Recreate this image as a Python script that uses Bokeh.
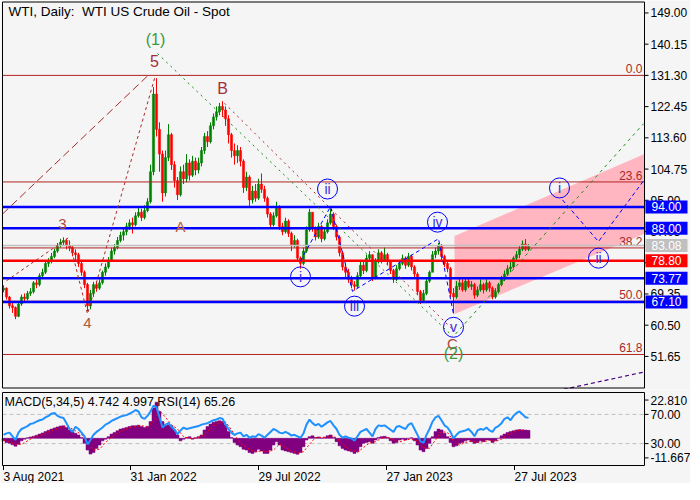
from bokeh.plotting import figure
from bokeh.models import Range1d, ColumnDataSource
from bokeh.layouts import column
from bokeh.embed import file_html
from bokeh.resources import INLINE
from bokeh.core.properties import value

# ---------------- data (every 3rd trading day, bar index 0 = 3 Aug 2021) ----------------
STEP = 3
first_open = 70.5
closes = [
    71.0, 68.5, 66.0, 65.5, 63.0, 66.5, 68.5, 68.0, 69.5, 70.0,
    72.5, 72.0, 74.5, 75.5, 78.0, 78.5, 80.0, 81.5, 83.0, 84.0,
    84.5, 83.0, 82.5, 81.0, 80.5, 78.0, 75.5, 72.0, 66.0, 69.5,
    72.0, 71.0, 72.5, 75.5, 77.0, 79.0, 81.5, 82.5, 84.5, 86.0,
    87.0, 88.5, 89.5, 89.0, 91.5, 92.5, 91.0, 93.0, 95.5, 104.0,
    126.0, 116.0, 109.0, 98.0, 108.0, 114.5, 106.0, 101.5, 97.5, 104.0,
    102.0, 106.5, 103.0, 107.0, 104.5, 106.5, 110.0, 114.0, 112.5, 117.0,
    119.5, 121.0, 122.5, 121.5, 119.0, 114.5, 110.0, 108.5, 110.0, 107.0,
    99.5, 102.5, 96.0, 98.5, 96.5, 100.5, 99.0, 96.5, 92.0, 89.0,
    91.5, 94.0, 88.5, 87.0, 90.0, 86.5, 83.0, 84.5, 79.5, 78.0,
    81.5, 87.5, 92.5, 88.0, 85.5, 88.5, 85.0, 87.0, 89.5, 92.0,
    88.5, 85.5, 81.0, 77.0, 75.5, 73.5, 72.0, 71.5, 74.5, 77.5,
    76.0, 79.5, 80.5, 74.0, 78.5, 81.0, 79.0, 80.5, 78.5, 76.0,
    73.5, 76.5, 78.0, 79.5, 77.5, 80.0, 77.0, 75.0, 70.0, 67.5,
    69.5, 73.0, 75.5, 80.5, 81.5, 83.0, 80.0, 78.0, 76.5, 69.5,
    68.5, 71.5, 72.5, 70.5, 73.0, 71.5, 72.0, 69.0, 70.5, 72.0,
    70.5, 72.5, 71.0, 68.5, 70.0, 72.0, 73.5, 75.0, 76.5, 77.0,
    79.5, 80.5, 82.0, 83.5, 82.0, 83.08]
highs = [
    71.8, 71.2, 68.8, 67.0, 65.8, 67.2, 69.2, 69.5, 70.2, 71.0,
    73.0, 73.5, 75.2, 76.5, 78.8, 79.5, 81.0, 82.2, 83.8, 85.0,
    85.4, 85.0, 84.0, 83.0, 82.0, 81.0, 78.5, 76.0, 72.5, 70.5,
    72.8, 73.0, 73.5, 76.0, 78.0, 79.8, 82.5, 83.5, 85.5, 87.0,
    88.0, 89.5, 90.5, 91.0, 92.5, 94.0, 93.5, 94.5, 96.5, 106.0,
    128.0, 130.5, 118.0, 110.0, 110.0, 117.5, 115.0, 107.0, 102.5, 105.5,
    106.0, 109.0, 107.5, 108.5, 108.0, 108.0, 111.0, 115.0, 115.5, 118.0,
    120.5, 122.5, 123.5, 124.0, 122.5, 120.0, 115.0, 112.0, 111.5, 111.0,
    107.5, 104.0, 103.0, 100.0, 100.5, 102.0, 103.5, 100.0, 97.0, 92.5,
    92.5, 95.5, 94.5, 89.5, 91.0, 90.5, 87.0, 86.0, 85.0, 80.0,
    82.5, 88.5, 93.5, 92.5, 88.5, 89.5, 89.0, 88.0, 90.5, 93.5,
    92.5, 89.0, 86.0, 81.5, 78.0, 76.5, 74.5, 73.0, 75.5, 78.5,
    78.5, 80.5, 81.5, 80.5, 79.5, 82.0, 81.5, 82.5, 81.0, 79.0,
    76.5, 77.5, 79.0, 80.5, 80.0, 81.0, 80.5, 77.5, 75.5, 70.5,
    70.5, 74.0, 76.0, 81.5, 82.5, 83.8, 83.5, 80.5, 78.5, 77.0,
    71.0, 73.0, 74.0, 73.5, 74.0, 74.0, 73.0, 72.5, 71.5, 73.5,
    72.5, 73.5, 73.0, 71.5, 71.0, 72.5, 74.5, 76.0, 77.5, 78.5,
    80.0, 81.5, 83.0, 84.5, 84.9, 83.5]
lows = [
    69.8, 67.8, 65.2, 64.0, 62.2, 62.8, 66.0, 67.0, 67.5, 68.8,
    69.5, 71.0, 71.5, 74.0, 75.0, 77.0, 78.0, 79.5, 81.0, 82.5,
    83.0, 82.0, 81.5, 80.0, 78.8, 77.0, 74.5, 71.0, 64.5, 65.0,
    68.5, 70.0, 70.5, 72.0, 74.5, 76.5, 78.5, 80.5, 82.0, 84.0,
    84.5, 86.0, 87.5, 86.5, 88.5, 91.0, 90.0, 90.5, 92.5, 95.0,
    103.0, 114.0, 104.0, 95.5, 97.0, 107.0, 104.5, 99.5, 96.0, 97.0,
    100.5, 101.0, 101.5, 102.5, 103.0, 103.5, 105.5, 109.0, 111.0, 112.0,
    116.0, 118.5, 120.0, 119.5, 117.0, 112.0, 108.0, 106.0, 106.5, 105.5,
    98.0, 98.5, 94.0, 95.0, 95.5, 96.0, 98.0, 95.5, 91.0, 88.0,
    88.5, 91.0, 87.5, 86.0, 86.5, 85.5, 81.5, 82.5, 78.5, 76.5,
    77.5, 81.0, 87.0, 87.0, 84.5, 85.0, 84.0, 84.5, 86.5, 89.0,
    87.5, 84.5, 80.0, 76.0, 74.0, 72.5, 71.0, 70.3, 71.0, 74.0,
    75.0, 75.5, 78.5, 73.0, 73.5, 78.0, 78.0, 78.5, 77.5, 75.0,
    72.5, 73.0, 76.0, 77.5, 76.5, 77.0, 76.0, 74.0, 69.0, 66.5,
    67.0, 69.0, 72.5, 79.5, 79.5, 80.5, 79.0, 77.0, 75.5, 68.5,
    63.8, 68.0, 70.5, 70.0, 70.0, 71.0, 70.5, 68.0, 68.5, 70.0,
    69.5, 70.0, 70.0, 67.8, 68.0, 69.5, 71.5, 73.0, 74.5, 75.5,
    76.5, 78.5, 79.5, 81.5, 81.5, 81.5]

rsi = [
    42, 44, 45, 40, 35, 45, 50, 52, 54, 57,
    58, 60, 62, 63, 66, 68, 71, 72, 68, 66,
    65, 58, 50, 46, 53, 50, 45, 40, 29, 35,
    42, 46, 49, 52, 56, 58, 61, 63, 65, 67,
    68, 69, 71, 73, 76, 74, 66, 64, 68, 74,
    82, 80, 66, 52, 56, 58, 53, 49, 43, 48,
    52, 50, 51, 52, 53, 54, 56, 57, 58, 60,
    62, 63, 65, 64, 56, 50, 45, 42, 44, 45,
    40, 42, 38, 40, 39, 43, 41, 38, 42, 46,
    50, 48, 45, 44, 46, 44, 41, 42, 40, 38,
    44, 56, 63, 58, 55, 57, 53, 56, 59, 61,
    55, 50, 42, 38, 40, 38, 37, 34, 40, 46,
    48, 50, 45, 40, 50, 55, 54, 55, 52, 49,
    46, 53, 54, 52, 50, 56, 58, 50, 42, 33,
    31, 42, 50, 60, 66, 68, 62, 55, 52, 46,
    37, 42, 46, 47, 48, 50, 46, 40, 48, 50,
    49, 52, 48, 46, 52, 54, 58, 64, 66, 62,
    68, 72, 74, 70, 66, 65.26]
macd = [
    -1.5, -2.5, -3.0, -3.8, -4.7, -3.5, -1.5, -0.5, 0.3, 0.8,
    1.2, 1.8, 2.5, 3.2, 4.0, 4.8, 5.5, 6.2, 6.8, 7.3,
    7.5, 6.5, 5.0, 4.0, 3.0, 2.0, 0.5, -3.0, -7.0, -9.4,
    -8.5, -6.0, -4.0, -1.5, -0.5, 1.0, 2.5, 3.5, 4.5, 5.5,
    6.0, 6.5, 7.0, 7.5, 7.5, 7.8, 7.0, 6.5, 7.0, 10.0,
    18.0, 21.5, 16.0, 10.0, 7.5, 8.0, 7.5, 5.0, 2.0, -1.5,
    -0.5, 0.5, 1.0, -0.5, 0.3, 1.0, 2.0, 5.0, 7.0, 8.5,
    9.5, 10.0, 10.5, 10.0, 8.0, 4.0, 0.5, -2.5, -4.0, -5.0,
    -6.5, -7.0, -8.5, -9.0, -8.0, -6.5, -7.5, -9.0, -9.0, -7.0,
    -4.0, -2.0, -4.0, -7.0, -7.5, -8.0, -8.5, -9.0, -9.5, -8.5,
    -5.0, -1.0, 1.0, 1.5, 0.5, 0.8, 0.2, 0.5, 1.5, 2.0,
    0.5, -2.0, -4.5, -6.0, -7.0, -7.5, -8.0, -9.0, -8.0, -5.0,
    -3.0, -2.5, -2.0, -3.0, -1.0, 0.5, 1.0, 1.2, 0.5, -1.5,
    -3.0, -2.5, -1.0, -0.5, -1.0, 0.0, 0.3, -1.5, -4.0, -7.0,
    -8.0, -6.0, -3.0, 1.0, 4.0, 5.5, 5.0, 3.0, 1.0, -2.5,
    -5.0, -4.5, -3.0, -2.5, -1.5, -1.0, -2.0, -3.0, -2.5, -1.5,
    -2.0, -1.0, -1.0, -2.5, -1.5, 0.0, 1.5, 2.5, 3.5, 4.0,
    4.5, 5.0, 5.2, 5.0, 4.9, 4.742]
SIG_STEP = 6
signal = [
    -1.0, -2.2, -3.5, -3.6, -1.5, 0.5, 1.6, 3.0, 4.5, 5.8,
    6.9, 6.5, 4.5, 2.2, -2.0, -7.0, -6.5, -2.5, 0.6, 3.0,
    5.0, 6.2, 7.0, 7.5, 7.0, 10.0, 16.5, 12.5, 8.0, 5.5,
    1.0, 0.0, 0.2, 1.0, 4.0, 7.5, 9.5, 9.8, 5.0, -0.5,
    -4.5, -6.5, -8.2, -7.5, -8.0, -7.0, -3.5, -5.5, -7.5, -8.8,
    -8.0, -3.5, 0.5, 0.6, 0.6, 1.5, -1.5, -5.0, -7.2, -8.3,
    -5.5, -2.8, -2.0, 0.0, 0.8, -1.0, -2.2, -1.0, -0.4, -1.5,
    -5.5, -6.0, -1.0, 4.0, 3.5, -1.5, -4.0, -2.5, -1.5, -2.5,
    -2.0, -1.3, -1.8, -0.5, 2.0, 3.8, 4.8, 4.997]

price_ticks = [149.00, 140.15, 131.30, 122.45, 113.60, 104.75, 95.90, 87.05, 78.20, 69.35, 60.50, 51.65]
date_tick_idx = [0, 127, 255, 383, 511]
date_labels = ["3 Aug 2021", "31 Jan 2022", "29 Jul 2022", "27 Jan 2023", "27 Jul 2023"]
macd_ticks = [22.810, -11.667]
rsi_ticks = [70.0, 30.0]

fib_levels = [131.3, 101.1, 82.4, 67.3, 52.2]
fib_labels = ["0.0", "23.6", "38.2", "50.0", "61.8"]

level_values = [94.00, 88.00, 83.08, 78.80, 73.77, 67.10]
level_colors = ["#0000ff", "#0000ff", "#c0c0c0", "#ff0000", "#0000ff", "#0000ff"]
level_widths = [2.5, 2.5, 1.5, 2.5, 2.5, 2.5]

wave_text = ["(1)", "5", "B", "3", "A", "4", "C", "(2)"]
wave_x = [152, 151, 219, 59, 177, 84, 449, 450]
wave_y = [141.6, 135.3, 127.5, 89.1, 88.6, 61.0, 55.4, 52.4]
wave_color = ["#3a9a3a", "#a0303c", "#a0303c", "#b04a3a", "#c0603a", "#b05a3a", "#b04a3a", "#3a9a3a"]
wave_size = ["16px", "16px", "16px", "15px", "15px", "15px", "15px", "16px"]

circ_text = ["i", "ii", "iii", "iv", "v", "i", "ii"]
circ_x = [297, 324, 351, 434, 450, 556, 595]
circ_y = [74.2, 99.1, 65.9, 89.7, 59.9, 99.4, 79.5]

wave5_x = [3, 65, 84, 152]
wave5_y = [73.1, 85.3, 63.7, 131.4]
longdash_x = [-1, 145]
longdash_y = [92.0, 131.4]
green1_x = [154, 449]
green1_y = [137.5, 57.4]
red2_x = [221, 449]
red2_y = [123.4, 59.3]
green_proj_x = [452, 640]
green_proj_y = [58.0, 117.6]
blue_sub_x = [297, 327, 349, 435, 450]
blue_sub_y = [78.7, 94.1, 70.1, 85.0, 63.7]
blue_future_x = [559, 595, 641]
blue_future_y = [96.0, 84.2, 101.8]
purple_x = [560, 640]
purple_y = [42.3, 47.2]
channel_x = [451, 641, 641, 451]
channel_y = [85.8, 109.0, 86.4, 63.7]

# ---------------- layout constants ----------------
BG = "#f5f5f5"
FONT = "Liberation Sans"
X0, X1 = -1, 641            # chart frame (bar index)
XR = Range1d(-3, 687)       # includes the right-hand scale area
P_LO, P_HI = 42.7, 152.1    # price frame
H1 = 389                    # main panel height (px)
H2 = 94                     # lower panel height (px)
LABEL_X = 647
BOX_X, BOX_W = 663, 42


def frame_lines(fig, lo, hi):
    fig.segment(x0=[X0, X0, X0, X1], y0=[lo, hi, lo, lo], x1=[X1, X1, X0, X1], y1=[lo, hi, hi, hi],
                line_color="black", line_width=1)


# ---------------- main price panel ----------------
pad = (P_HI - P_LO) / (H1 - 3.0) * 1.5
p = figure(width=690, height=H1, x_range=XR, y_range=Range1d(P_LO - pad, P_HI + pad),
           output_backend="svg", toolbar_location=None,
           x_axis_location=None, y_axis_location=None,
           min_border_left=0, min_border_right=0, min_border_top=0, min_border_bottom=0,
           background_fill_color=BG, border_fill_color=BG, outline_line_color=None)
p.grid.visible = False

p.patch(channel_x, channel_y, fill_color="#ffb6c1", line_color=None)

n = min(len(closes), len(highs), len(lows))
idx = [STEP * i for i in range(n)]
opens = [first_open] + closes[:n - 1]
cols = ["#008000" if closes[i] >= opens[i] else "#ff0000" for i in range(n)]
src = ColumnDataSource(dict(
    x=idx, h=highs[:n], l=lows[:n],
    top=[max(opens[i], closes[i]) for i in range(n)],
    bot=[min(opens[i], closes[i]) for i in range(n)],
    col=cols))
p.segment(x0="x", y0="l", x1="x", y1="h", line_color="col", line_width=1, source=src)
p.vbar(x="x", width=2.2, top="top", bottom="bot", fill_color="col", line_color="col",
       line_width=0.5, source=src)

# fib levels
p.segment(x0=[X0] * len(fib_levels), x1=[X1] * len(fib_levels), y0=fib_levels, y1=fib_levels,
          line_color="#b22222", line_width=1)
p.text(x=[X1 - 2] * len(fib_levels), y=[lv + 0.6 for lv in fib_levels], text=fib_labels,
       text_align="right", text_baseline="bottom", text_color="#a52a2a",
       text_font=value(FONT), text_font_size="12px")

# support / resistance levels
for lv, c, w in zip(level_values, level_colors, level_widths):
    p.segment(x0=[X0], x1=[X1], y0=[lv], y1=[lv], line_color=c, line_width=w)

# wave lines
p.line(wave5_x, wave5_y, line_color="#a52a2a", line_dash="3 3", line_width=1)
p.line(longdash_x, longdash_y, line_color="#a52a2a", line_dash="8 4", line_width=1)
p.line(green1_x, green1_y, line_color="#1a8a1a", line_dash="2 4", line_width=1)
p.line(red2_x, red2_y, line_color="#a52a2a", line_dash="2 4", line_width=1)
p.line(green_proj_x, green_proj_y, line_color="#1a8a1a", line_dash="3 4", line_width=1)
p.line(blue_sub_x, blue_sub_y, line_color="#0000ff", line_dash="4 3", line_width=1)
p.line(blue_future_x, blue_future_y, line_color="#0000ff", line_dash="4 3", line_width=1)
p.line(purple_x, purple_y, line_color="#4b0082", line_dash="4 3", line_width=1.2)

# wave labels
p.text(x=wave_x, y=wave_y, text=wave_text, text_color=wave_color, text_font_size=wave_size,
       text_align="center", text_baseline="middle", text_font=value(FONT))
p.scatter(x=circ_x, y=circ_y, marker="circle", size=20, fill_color=None,
          line_color="#0000ff", line_width=1)
p.text(x=circ_x, y=circ_y, text=circ_text, text_color="#3a2be0", text_font_size="14px",
       text_align="center", text_baseline="middle", text_font=value(FONT))

# title
p.text(x=[5], y=[151.5], text=["WTI, Daily:\u00a0 WTI US Crude Oil - Spot"], text_align="left",
       text_baseline="top", text_color="black", text_font=value(FONT), text_font_size="13.5px")

frame_lines(p, P_LO, P_HI)

# right price scale
p.segment(x0=[X1] * len(price_ticks), x1=[X1 + 4] * len(price_ticks), y0=price_ticks, y1=price_ticks,
          line_color="black", line_width=1)
p.text(x=[LABEL_X] * len(price_ticks), y=price_ticks, text=["%.2f" % t for t in price_ticks],
       text_align="left", text_baseline="middle", text_color="black",
       text_font=value(FONT), text_font_size="12px")

# price boxes
p.rect(x=[BOX_X] * len(level_values), y=level_values, width=BOX_W, height=13, height_units="screen",
       fill_color=level_colors, line_color=None)
p.text(x=[BOX_X] * len(level_values), y=level_values, text=["%.2f" % v for v in level_values],
       text_align="center", text_baseline="middle", text_color="white",
       text_font=value(FONT), text_font_size="12px")

# ---------------- lower panel (MACD + RSI) ----------------
MACD_LO, MACD_HI = -16.2, 27.3     # macd value at RSI 0 / RSI 100
PX_PER_UNIT = 0.73                 # pixels per RSI unit
TOP_GAP, BOTTOM_GAP = 3.0, H2 - 3.0 - 73.0
R_LO = -BOTTOM_GAP / PX_PER_UNIT
R_HI = 100.0 + TOP_GAP / PX_PER_UNIT
k = (MACD_HI - MACD_LO) / 100.0

p2 = figure(width=690, height=H2, x_range=XR, y_range=Range1d(R_LO, R_HI),
            output_backend="svg", toolbar_location=None,
            x_axis_location=None, y_axis_location=None,
            min_border_left=0, min_border_right=0, min_border_top=0, min_border_bottom=0,
            background_fill_color=BG, border_fill_color=BG, outline_line_color=None)
p2.grid.visible = False
p2.extra_y_ranges = {"macd": Range1d(MACD_LO + R_LO * k, MACD_LO + R_HI * k)}

p2.segment(x0=[X0, X0], x1=[X1, X1], y0=rsi_ticks, y1=rsi_ticks, line_color="#c0c0c0",
           line_dash="4 3", line_width=1)

mx = [STEP * i for i in range(len(macd))]
p2.vbar(x=mx, width=STEP, top=macd, bottom=0, fill_color="#800080", line_color="#800080",
        line_width=0.5, y_range_name="macd")
sx = [SIG_STEP * i for i in range(len(signal))]
p2.line(sx, signal, line_color="#ff0000", line_dash="2 2", line_width=1, y_range_name="macd")
rx = [STEP * i for i in range(len(rsi))]
p2.line(rx, rsi, line_color="#1e90ff", line_width=2)

p2.text(x=[1], y=[96], text=["MACD(5,34,5) 4.742 4.997 RSI(14) 65.26"], text_align="left",
        text_baseline="top", text_color="black", text_font=value(FONT), text_font_size="12.5px")

frame_lines(p2, 0, 100)

# right scale of lower panel
macd_tick_pos = [(m - MACD_LO) / k for m in macd_ticks]
scale_pos = [macd_tick_pos[0], rsi_ticks[0], rsi_ticks[1], macd_tick_pos[1]]
scale_txt = ["%.3f" % macd_ticks[0], "%.2f" % rsi_ticks[0], "%.2f" % rsi_ticks[1], "%.3f" % macd_ticks[1]]
p2.segment(x0=[X1] * 4, x1=[X1 + 4] * 4, y0=scale_pos, y1=scale_pos, line_color="black", line_width=1)
p2.text(x=[LABEL_X] * 4, y=scale_pos, text=scale_txt, text_align="left", text_baseline="middle",
        text_color="black", text_font=value(FONT), text_font_size="12px")

# date scale
tick_len = 4.5 / PX_PER_UNIT
p2.segment(x0=date_tick_idx, x1=date_tick_idx, y0=[0] * len(date_tick_idx),
           y1=[-tick_len] * len(date_tick_idx), line_color="black", line_width=1)
p2.text(x=date_tick_idx, y=[-tick_len] * len(date_tick_idx), text=date_labels,
        text_align="left", text_baseline="top", text_color="black",
        text_font=value(FONT), text_font_size="12px")

layout = column(p, p2, spacing=0)
open("out.html", "w").write(file_html(layout, INLINE))
